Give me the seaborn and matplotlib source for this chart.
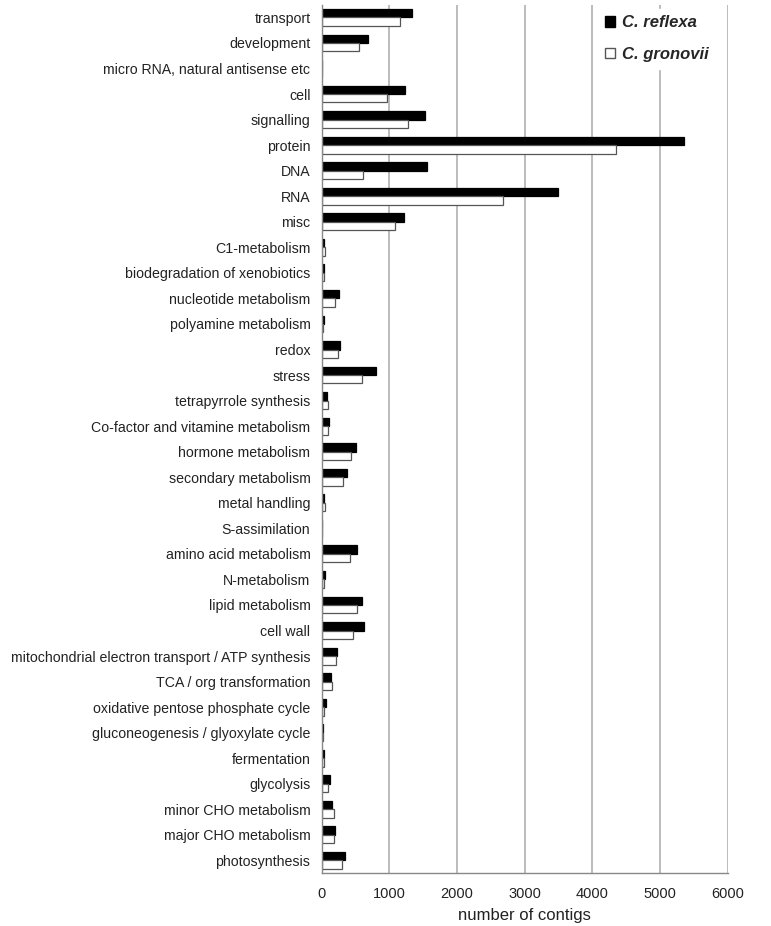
import matplotlib
matplotlib.use("Agg")
import matplotlib.pyplot as plt
import seaborn as sns
import pandas as pd
import numpy as np
from matplotlib.patches import Patch

categories = [
    "transport", "development", "micro RNA, natural antisense etc", "cell",
    "signalling", "protein", "DNA", "RNA", "misc", "C1-metabolism",
    "biodegradation of xenobiotics", "nucleotide metabolism", "polyamine metabolism",
    "redox", "stress", "tetrapyrrole synthesis", "Co-factor and vitamine metabolism",
    "hormone metabolism", "secondary metabolism", "metal handling", "S-assimilation",
    "amino acid metabolism", "N-metabolism", "lipid metabolism", "cell wall",
    "mitochondrial electron transport / ATP synthesis", "TCA / org transformation",
    "oxidative pentose phosphate cycle", "gluconeogenesis / glyoxylate cycle",
    "fermentation", "glycolysis", "minor CHO metabolism", "major CHO metabolism",
    "photosynthesis",
]
reflexa = [1340, 680, 5, 1237, 1523, 5355, 1553, 3486, 1213, 40,
           40, 256, 30, 271, 809, 74, 108,
           508, 370, 44, 10,
           518, 49, 592, 626,
           227, 143,
           59, 20,
           30, 123, 162, 197,
           340]
gronovii = [1155, 550, 3, 966, 1282, 4349, 611, 2678, 1085, 50,
            30, 197, 25, 237, 602, 89, 89,
            439, 311, 54, 10,
            424, 40, 528, 459,
            212, 153,
            40, 20,
            30, 103, 187, 187,
            305]
series_names = ["C. reflexa", "C. gronovii"]

df = pd.DataFrame({
    "category": categories * 2,
    "value": reflexa + gronovii,
    "species": [series_names[0]] * len(categories) + [series_names[1]] * len(categories),
})

sns.set_theme(style="white")
plt.rcParams["font.family"] = ["Liberation Sans", "DejaVu Sans"]

fig = plt.figure(figsize=(7.71, 9.26), dpi=100)
ax = fig.add_axes([0.417, 0.057, 0.527, 0.938])

sns.barplot(data=df, y="category", x="value", hue="species", order=categories,
            hue_order=series_names, palette=["black", "white"], orient="h",
            width=0.66, edgecolor="#555555", linewidth=0.9, ax=ax, legend=False)
for bar in ax.patches[:len(categories)]:
    bar.set_edgecolor("black")

n = len(categories)
ax.set_xlim(0, 6000)
ax.set_ylim(n - 0.5, -0.5)
ax.set_xticks(np.arange(0, 6001, 1000))
ax.xaxis.grid(True, color="#b0b0b0", linewidth=1.2)
ax.set_axisbelow(True)
ax.set_ylabel("")
ax.set_xlabel("number of contigs", fontsize=12, color="#222222", labelpad=5)
ax.tick_params(axis="x", labelsize=10.5, colors="#222222", length=4, color="#aaaaaa",
               width=1.0, pad=6)
ax.tick_params(axis="y", labelsize=10.2, colors="#222222", length=0, pad=8)
ax.set_yticks(np.arange(-0.5, n, 1.0), minor=True)
ax.tick_params(axis="y", which="minor", length=4, color="#888888", width=0.8)

for s in ["top", "right"]:
    ax.spines[s].set_visible(False)
for s in ["left", "bottom"]:
    ax.spines[s].set_color("#888888")
    ax.spines[s].set_linewidth(1.0)

handles = [Patch(facecolor="black", edgecolor="black", label=series_names[0]),
           Patch(facecolor="white", edgecolor="#555555", label=series_names[1])]
leg = ax.legend(handles=handles, loc="upper right", bbox_to_anchor=(0.99, 1.005),
                frameon=True, framealpha=1.0, edgecolor="white",
                prop={"style": "italic", "weight": "bold", "size": 12},
                handlelength=0.6, handleheight=0.6, handletextpad=0.4,
                labelspacing=1.0, borderpad=0.4)

fig.savefig("out.png", dpi=100)
